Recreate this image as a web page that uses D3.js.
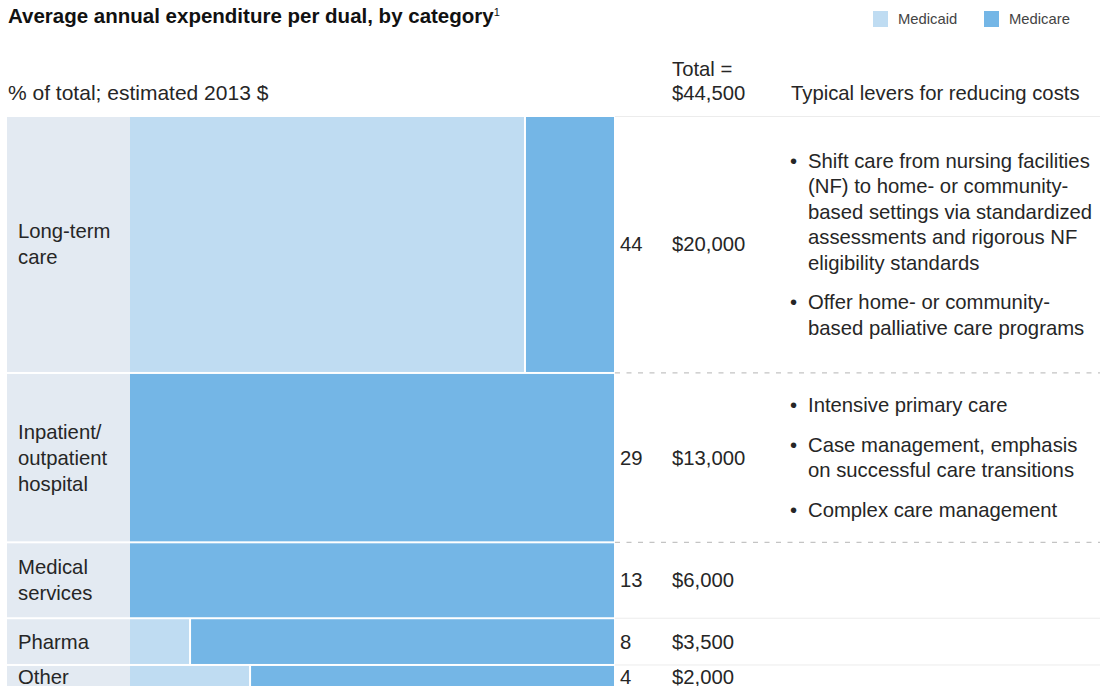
<!DOCTYPE html>
<html>
<head>
<meta charset="utf-8">
<script src="https://cdn.jsdelivr.net/npm/d3@7"></script>
<style>
  body { margin: 0; background: #fff; }
  svg { display: block; font-family: "Liberation Sans", Arial, sans-serif; }
</style>
</head>
<body>
<div id="chart"></div>
<script>
// data
const categories = ["Long-term care", "Inpatient/outpatient hospital", "Medical services", "Pharma", "Other"]
const labelLines = [["Long-term", "care"], ["Inpatient/", "outpatient", "hospital"], ["Medical", "services"], ["Pharma"], ["Other"]]
const sharePct = [44, 29, 13, 8, 4]              // % of total (row height)
const medicaidPct = [81.4, 0, 0, 12.2, 24.6]     // medicaid part of each row, % of row width
const dollars = ["$20,000", "$13,000", "$6,000", "$3,500", "$2,000"]
const levers = [
  [["Shift care from nursing facilities", "(NF) to home- or community-", "based settings via standardized", "assessments and rigorous NF", "eligibility standards"],
   ["Offer home- or community-", "based palliative care programs"]],
  [["Intensive primary care"],
   ["Case management, emphasis", "on successful care transitions"],
   ["Complex care management"]],
  [], [], []
]
const seriesNames = ["Medicaid", "Medicare"]
const colors = {Medicaid: "#bfdcf2", Medicare: "#74b6e6", label: "#e3eaf2"}

const W = 1111, H = 686
const FS = 20.3
const ink = "#262626"
const svg = d3.select("#chart").append("svg").attr("width", W).attr("height", H)

const y = d3.scaleLinear().domain([0, 100]).range([117, 701])
const x = d3.scaleLinear().domain([0, 100]).range([130, 614])

const rows = categories.map(function(c, i) {
  const start = d3.sum(sharePct.slice(0, i))
  return {name: c, i: i, y0: y(start), y1: y(start + sharePct[i]) - 2, mid: (y(start) + y(start + sharePct[i]) - 2) / 2}
})

// title
const title = svg.append("text").attr("x", 8).attr("y", 23)
  .attr("font-size", 20.5).attr("font-weight", "bold").attr("fill", "#111")
  .text("Average annual expenditure per dual, by category")
title.append("tspan").attr("font-size", 11).attr("font-weight", "normal").attr("dy", -7).text("1")

// legend
seriesNames.forEach(function(s, i) {
  const lx = [873, 984][i]
  svg.append("rect").attr("x", lx).attr("y", 11).attr("width", 15).attr("height", 16).attr("fill", colors[s])
  svg.append("text").attr("x", lx + 25).attr("y", 24).attr("font-size", 14.8).attr("fill", "#444").text(s)
})

// headers
const hdr = svg.append("g").attr("font-size", FS).attr("fill", ink)
hdr.append("text").attr("x", 8).attr("y", 100).attr("font-size", 21).text("% of total; estimated 2013 $")
hdr.append("text").attr("x", 672).attr("y", 76).text("Total =")
hdr.append("text").attr("x", 672).attr("y", 100).text("$44,500")
hdr.append("text").attr("x", 791).attr("y", 100).text("Typical levers for reducing costs")

// separators on the right
svg.append("line").attr("x1", 615).attr("x2", 1100).attr("y1", 116.5).attr("y2", 116.5)
  .attr("stroke", "#ececec").attr("stroke-width", 1)
rows.slice(1).forEach(function(r) {
  const dashed = r.i <= 2
  svg.append("line").attr("x1", 615).attr("x2", 1100).attr("y1", r.y0 - 1).attr("y2", r.y0 - 1)
    .attr("stroke", dashed ? "#c4c4c4" : "#ececec").attr("stroke-width", dashed ? 1.3 : 1)
    .attr("stroke-dasharray", dashed ? "5,6.5" : null)
})

const g = svg.selectAll("g.row").data(rows).join("g").attr("class", "row")

// label column
g.append("rect").attr("x", 7).attr("width", 130 - 7)
  .attr("y", d => d.y0).attr("height", d => d.y1 - d.y0).attr("fill", colors.label)

// medicaid part
g.filter(d => medicaidPct[d.i] > 0).append("rect")
  .attr("x", x(0)).attr("width", d => x(medicaidPct[d.i]) - x(0))
  .attr("y", d => d.y0).attr("height", d => d.y1 - d.y0).attr("fill", colors.Medicaid)

// medicare part
g.append("rect")
  .attr("x", d => medicaidPct[d.i] > 0 ? x(medicaidPct[d.i]) + 2 : x(0))
  .attr("width", d => x(100) - (medicaidPct[d.i] > 0 ? x(medicaidPct[d.i]) + 2 : x(0)))
  .attr("y", d => d.y0).attr("height", d => d.y1 - d.y0).attr("fill", colors.Medicare)

// row labels
g.each(function(d) {
  const lines = labelLines[d.i]
  const t = d3.select(this).append("text").attr("font-size", FS).attr("fill", ink)
  lines.forEach(function(l, k) {
    t.append("tspan").attr("x", 18).attr("y", d.mid + 7 + (k - (lines.length - 1) / 2) * 26).text(l)
  })
})

// values
g.append("text").attr("x", 620).attr("y", d => d.mid + 7).attr("font-size", FS).attr("fill", ink)
  .text(d => sharePct[d.i])
g.append("text").attr("x", 672).attr("y", d => d.mid + 7).attr("font-size", FS).attr("fill", ink)
  .text(d => dollars[d.i])

// levers
g.each(function(d) {
  const paras = levers[d.i]
  if (!paras.length) return
  const lh = 25.5, gap = 14
  const nLines = d3.sum(paras, p => p.length)
  const total = (nLines - 1) * lh + (paras.length - 1) * gap
  let cy = d.mid - total / 2 + 7
  const sel = d3.select(this)
  paras.forEach(function(p) {
    sel.append("text").attr("x", 790).attr("y", cy).attr("font-size", FS).attr("fill", ink).text("•")
    p.forEach(function(l) {
      sel.append("text").attr("x", 808).attr("y", cy).attr("font-size", FS).attr("fill", ink).text(l)
      cy += lh
    })
    cy += gap
  })
})
</script>
</body>
</html>
